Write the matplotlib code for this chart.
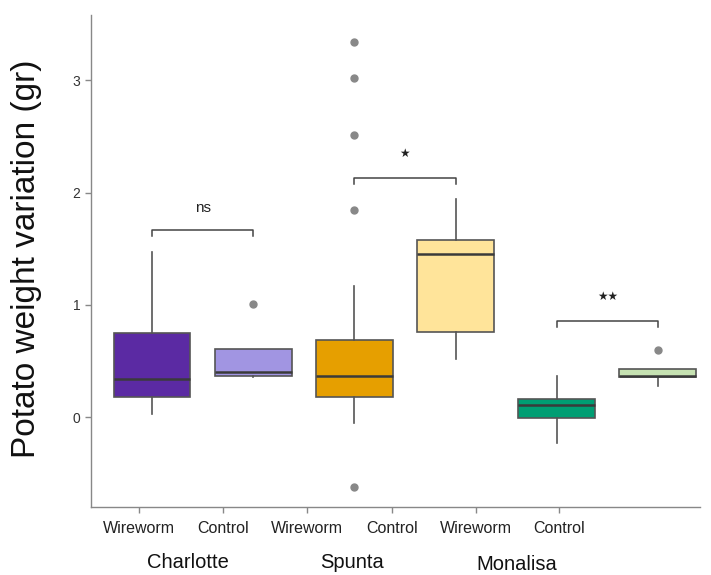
import matplotlib
matplotlib.use("Agg")
import matplotlib.pyplot as plt

plt.rcParams['font.family'] = ['Liberation Sans', 'DejaVu Sans']

varieties = ["Charlotte", "Spunta", "Monalisa"]
treatments = ["Wireworm", "Control", "Wireworm", "Control", "Wireworm", "Control"]
# box stats: whislo, q1, med, q3, whishi, outliers
whislo = [0.03, 0.355, -0.05, 0.52, -0.23, 0.28]
q1 = [0.18, 0.365, 0.18, 0.76, -0.01, 0.36]
med = [0.34, 0.40, 0.365, 1.45, 0.107, 0.368]
q3 = [0.75, 0.61, 0.69, 1.58, 0.16, 0.43]
whishi = [1.47, 0.61, 1.17, 1.94, 0.37, 0.43]
fliers = [[], [1.01], [3.34, 3.02, 2.51, 1.84, -0.62], [], [], [0.60]]
colors = ["#5B2AA3", "#A195E2", "#E69F00", "#FFE49A", "#009E73", "#C6E2B2"]
sig_labels = ["ns", "\u2605", "\u2605\u2605"]
sig_y = [1.67, 2.13, 0.855]

fig = plt.figure(figsize=(7.11, 5.75), dpi=100)
ax = fig.add_axes([0.128, 0.118, 0.857, 0.856])

positions = [1, 2, 3, 4, 5, 6]
stats = []
for i in range(6):
    stats.append(dict(whislo=whislo[i], q1=q1[i], med=med[i], q3=q3[i],
                      whishi=whishi[i], fliers=fliers[i]))
bp = ax.bxp(stats, positions=positions, widths=0.76, patch_artist=True,
            showcaps=False,
            boxprops=dict(edgecolor="#555555", linewidth=1.2),
            medianprops=dict(color="#3a3a3a", linewidth=1.8),
            whiskerprops=dict(color="#555555", linewidth=1.2),
            flierprops=dict(marker='o', markerfacecolor="#888888",
                            markeredgecolor="#888888", markersize=5))
for patch, c in zip(bp['boxes'], colors):
    patch.set_facecolor(c)

# significance brackets
for g in range(3):
    x1, x2 = positions[2 * g], positions[2 * g + 1]
    y = sig_y[g]
    ax.plot([x1, x1, x2, x2], [y - 0.055, y, y, y - 0.055], color="#444444", lw=1.1)
    if g == 0:
        ax.text((x1 + x2) / 2, y + 0.19, sig_labels[g], ha='center', va='center',
                fontsize=11, color="#222222")
    else:
        ax.text((x1 + x2) / 2, y + 0.22, sig_labels[g], ha='center', va='center',
                fontsize=8.5, color="#222222", family=['DejaVu Sans'])

ax.set_xlim(0.397, 6.42)
ax.set_ylim(-0.80, 3.58)
ax.set_yticks([0, 1, 2, 3])
ax.set_yticklabels(["0", "1", "2", "3"], fontsize=10, color="#333333")

tick_pos = [0.87, 1.70, 2.53, 3.37, 4.20, 5.02]
ax.set_xticks(tick_pos)
ax.set_xticklabels(treatments, fontsize=11.5, color="#222222")
ax.tick_params(axis='both', length=4, color="#888888", width=1)
ax.tick_params(axis='x', pad=6)

for s in ["top", "right"]:
    ax.spines[s].set_visible(False)
for s in ["left", "bottom"]:
    ax.spines[s].set_color("#888888")
    ax.spines[s].set_linewidth(1)

group_x_px = [188, 352, 517]
group_y_px = [562, 562, 565]
for name, px, py in zip(varieties, group_x_px, group_y_px):
    fig.text(px / 711, 1 - py / 575, name, ha='center', va='center', fontsize=14.5, color="#111111")

fig.text(27 / 711, 1 - 259 / 575, "Potato weight variation (gr)", rotation=90,
         ha='center', va='center', fontsize=24, color="#111111")

fig.savefig("out.png", dpi=100)
